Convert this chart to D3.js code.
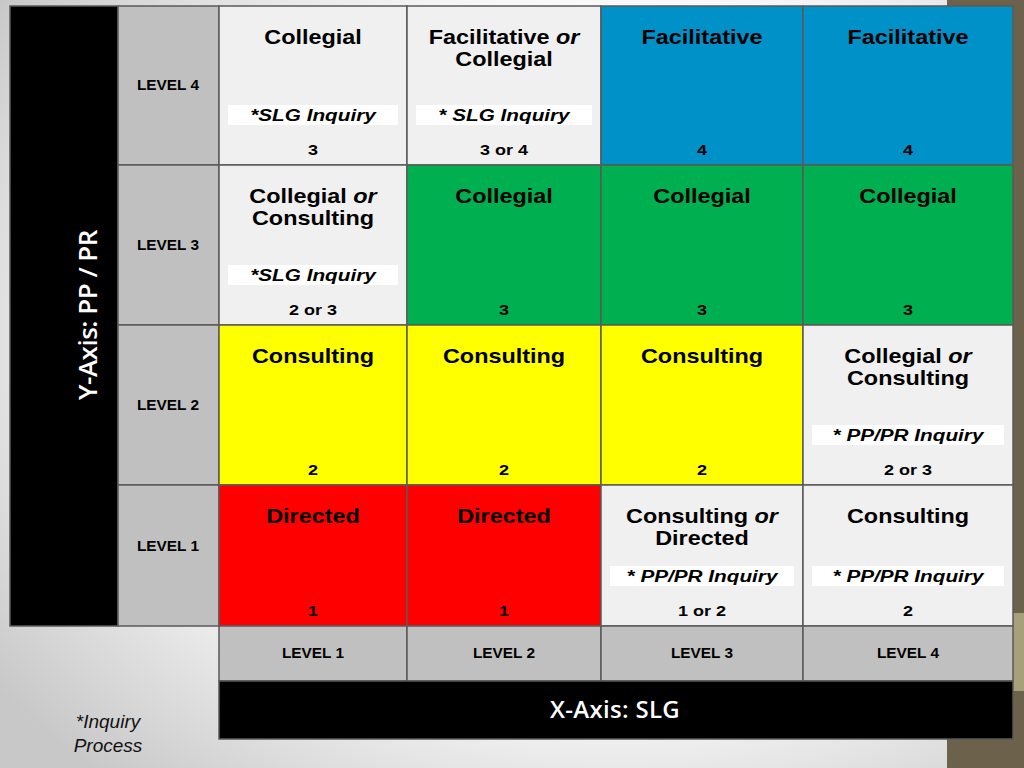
<!DOCTYPE html>
<html>
<head>
<meta charset="utf-8">
<script src="https://cdn.jsdelivr.net/npm/d3@7"></script>
<style>
  body { margin: 0; background: #fff; }
  svg { display: block; }
</style>
</head>
<body>
<div id="chart"></div>
<script>
// levels along each axis
var xLevels = ["LEVEL 1", "LEVEL 2", "LEVEL 3", "LEVEL 4"];
var yLevels = ["LEVEL 4", "LEVEL 3", "LEVEL 2", "LEVEL 1"];

// cell contents, row by row from the top (LEVEL 4) down
var cellTitles = [
    [["Collegial"], ["Facilitative", " or", "Collegial"], ["Facilitative"], ["Facilitative"]],
    [["Collegial", " or", "Consulting"], ["Collegial"], ["Collegial"], ["Collegial"]],
    [["Consulting"], ["Consulting"], ["Consulting"], ["Collegial", " or", "Consulting"]],
    [["Directed"], ["Directed"], ["Consulting", " or", "Directed"], ["Consulting"]]
];
var cellKinds = [
    ["mixed", "mixed", "facilitative", "facilitative"],
    ["mixed", "collegial", "collegial", "collegial"],
    ["consulting", "consulting", "consulting", "mixed"],
    ["directed", "directed", "mixed", "mixed"]
];
var cellInquiry = [
    ["*SLG  Inquiry", "* SLG Inquiry", "", ""],
    ["*SLG Inquiry", "", "", ""],
    ["", "", "", "* PP/PR Inquiry"],
    ["", "", "* PP/PR Inquiry", "* PP/PR Inquiry"]
];
var cellScores = [
    ["3", "3 or 4", "4", "4"],
    ["2 or 3", "3", "3", "3"],
    ["2", "2", "2", "2 or 3"],
    ["1", "1", "1 or 2", "2"]
];

var kindColors = {
    mixed: "#f0f0f0",
    facilitative: "#0091c9",
    collegial: "#00b050",
    consulting: "#ffff00",
    directed: "#ff0000"
};

var width = 1024, height = 768;

var svg = d3.select("#chart").append("svg")
    .attr("width", width)
    .attr("height", height);

// the slide text is drawn a little wider than Arial, so stretch it
function place(sel, fx, fy, sx) {
    sel.attr("transform", function(d, i) {
        return "translate(" + fx(d, i) + "," + fy(d, i) + ") scale(" + sx + ",1)";
    });
}

//
// background
//
var defs = svg.append("defs");
var bg = defs.append("radialGradient").attr("id", "bg")
    .attr("cx", "60%").attr("cy", "45%").attr("r", "75%");
bg.append("stop").attr("offset", "55%").attr("stop-color", "#ffffff");
bg.append("stop").attr("offset", "100%").attr("stop-color", "#c8c8c8");

svg.append("rect").attr("width", width).attr("height", height).attr("fill", "url(#bg)");
svg.append("rect").attr("x", 947).attr("y", 0).attr("width", 77).attr("height", height).attr("fill", "#6c624b");
svg.append("rect").attr("x", 1013).attr("y", 613).attr("width", 11).attr("height", 78).attr("fill", "#a89f7b");

//
// scales (column and row widths are not even)
//
var x = d3.scaleLinear().domain([0, 1, 2, 3, 4]).range([219, 407, 601, 803, 1013]);
var y = d3.scaleLinear().domain([0, 1, 2, 3, 4]).range([6, 165, 325, 485, 626]);

var stroke = "#5a5a5a";

// y-axis black column and row labels
svg.append("rect").attr("x", 10).attr("y", y(0)).attr("width", 108).attr("height", y(4) - y(0))
    .attr("fill", "#000").attr("stroke", stroke).attr("stroke-width", 1.5);

svg.append("text")
    .attr("transform", "translate(97," + ((y(0) + y(4)) / 2 - 1) + ") rotate(-90)")
    .attr("text-anchor", "middle")
    .attr("fill", "#fff")
    .style("font", "600 26px 'Open Sans'")
    .style("letter-spacing", "-0.5px")
    .text("Y-Axis: PP / PR");

var rowHead = svg.append("g").selectAll("g").data(yLevels).join("g");
rowHead.append("rect")
    .attr("x", 118).attr("width", 101)
    .attr("y", function(d, i) { return y(i); })
    .attr("height", function(d, i) { return y(i + 1) - y(i); })
    .attr("fill", "#c0c0c0").attr("stroke", stroke).attr("stroke-width", 1.5);
rowHead.append("text")
    .attr("text-anchor", "middle")
    .style("font", "bold 14px 'Liberation Sans'")
    .text(function(d) { return d; })
    .call(place, function() { return 168; },
          function(d, i) { return Math.min((y(i) + y(i + 1)) / 2, y(i + 1) - 80) + 5; }, 1.1);

//
// cells
//
var cells = [];
cellKinds.forEach(function(row, r) {
    row.forEach(function(kind, c) {
        cells.push({ r: r, c: c, kind: kind, title: cellTitles[r][c],
                     inquiry: cellInquiry[r][c], score: cellScores[r][c] });
    });
});

var cell = svg.append("g").selectAll("g").data(cells).join("g");

cell.append("rect")
    .attr("x", function(d) { return x(d.c); })
    .attr("y", function(d) { return y(d.r); })
    .attr("width", function(d) { return x(d.c + 1) - x(d.c); })
    .attr("height", function(d) { return y(d.r + 1) - y(d.r); })
    .attr("fill", function(d) { return kindColors[d.kind]; })
    .attr("stroke", stroke).attr("stroke-width", 1.5);

function cx(d) { return (x(d.c) + x(d.c + 1)) / 2; }

// title: first word(s) bold, optional italic " or", optional second line
cell.each(function(d) {
    var g = d3.select(this);
    var t = g.append("text")
        .attr("text-anchor", "middle")
        .style("font", "bold 19.5px 'Liberation Sans'")
        .call(place, cx, function() { return y(d.r) + 38; }, 1.2);
    t.append("tspan").text(d.title[0]);
    if (d.title.length > 1) {
        t.append("tspan").attr("font-style", "italic").text(d.title[1]);
        g.append("text")
            .attr("text-anchor", "middle")
            .style("font", "bold 19.5px 'Liberation Sans'")
            .text(d.title[2])
            .call(place, cx, function() { return y(d.r) + 60; }, 1.2);
    }
});

// inquiry label on a white strip
var inq = cell.filter(function(d) { return d.inquiry; });
inq.append("rect")
    .attr("x", function(d) { return x(d.c) + 9; })
    .attr("y", function(d) { return y(d.r + 1) - 60; })
    .attr("width", function(d) { return x(d.c + 1) - x(d.c) - 18; })
    .attr("height", 20)
    .attr("fill", "#fff");
inq.append("text")
    .attr("text-anchor", "middle")
    .style("font", "italic bold 17px 'Liberation Sans'")
    .text(function(d) { return d.inquiry; })
    .call(place, cx, function(d) { return y(d.r + 1) - 44; }, 1.22);

// score
cell.append("text")
    .attr("text-anchor", "middle")
    .style("font", "bold 15px 'Liberation Sans'")
    .text(function(d) { return d.score; })
    .call(place, cx, function(d) { return y(d.r + 1) - 10; }, 1.2);

//
// x-axis labels and bar
//
var colHead = svg.append("g").selectAll("g").data(xLevels).join("g");
colHead.append("rect")
    .attr("x", function(d, i) { return x(i); })
    .attr("width", function(d, i) { return x(i + 1) - x(i); })
    .attr("y", 626).attr("height", 55)
    .attr("fill", "#c0c0c0").attr("stroke", stroke).attr("stroke-width", 1.5);
colHead.append("text")
    .attr("text-anchor", "middle")
    .style("font", "bold 14px 'Liberation Sans'")
    .text(function(d) { return d; })
    .call(place, function(d, i) { return (x(i) + x(i + 1)) / 2; }, function() { return 658; }, 1.1);

svg.append("rect").attr("x", x(0)).attr("y", 681).attr("width", x(4) - x(0)).attr("height", 58)
    .attr("fill", "#000").attr("stroke", stroke).attr("stroke-width", 1.5);
svg.append("text")
    .attr("x", 615).attr("y", 718)
    .attr("text-anchor", "middle")
    .attr("fill", "#fff")
    .style("font", "600 24px 'Open Sans'")
    .style("letter-spacing", "0.3px")
    .text("X-Axis: SLG");

// footnote
var note = svg.append("text")
    .attr("text-anchor", "middle")
    .style("font", "italic 19px 'Liberation Sans'")
    .attr("fill", "#111");
note.append("tspan").attr("x", 108).attr("y", 728).text("*Inquiry");
note.append("tspan").attr("x", 108).attr("y", 752).text("Process");
</script>
</body>
</html>
